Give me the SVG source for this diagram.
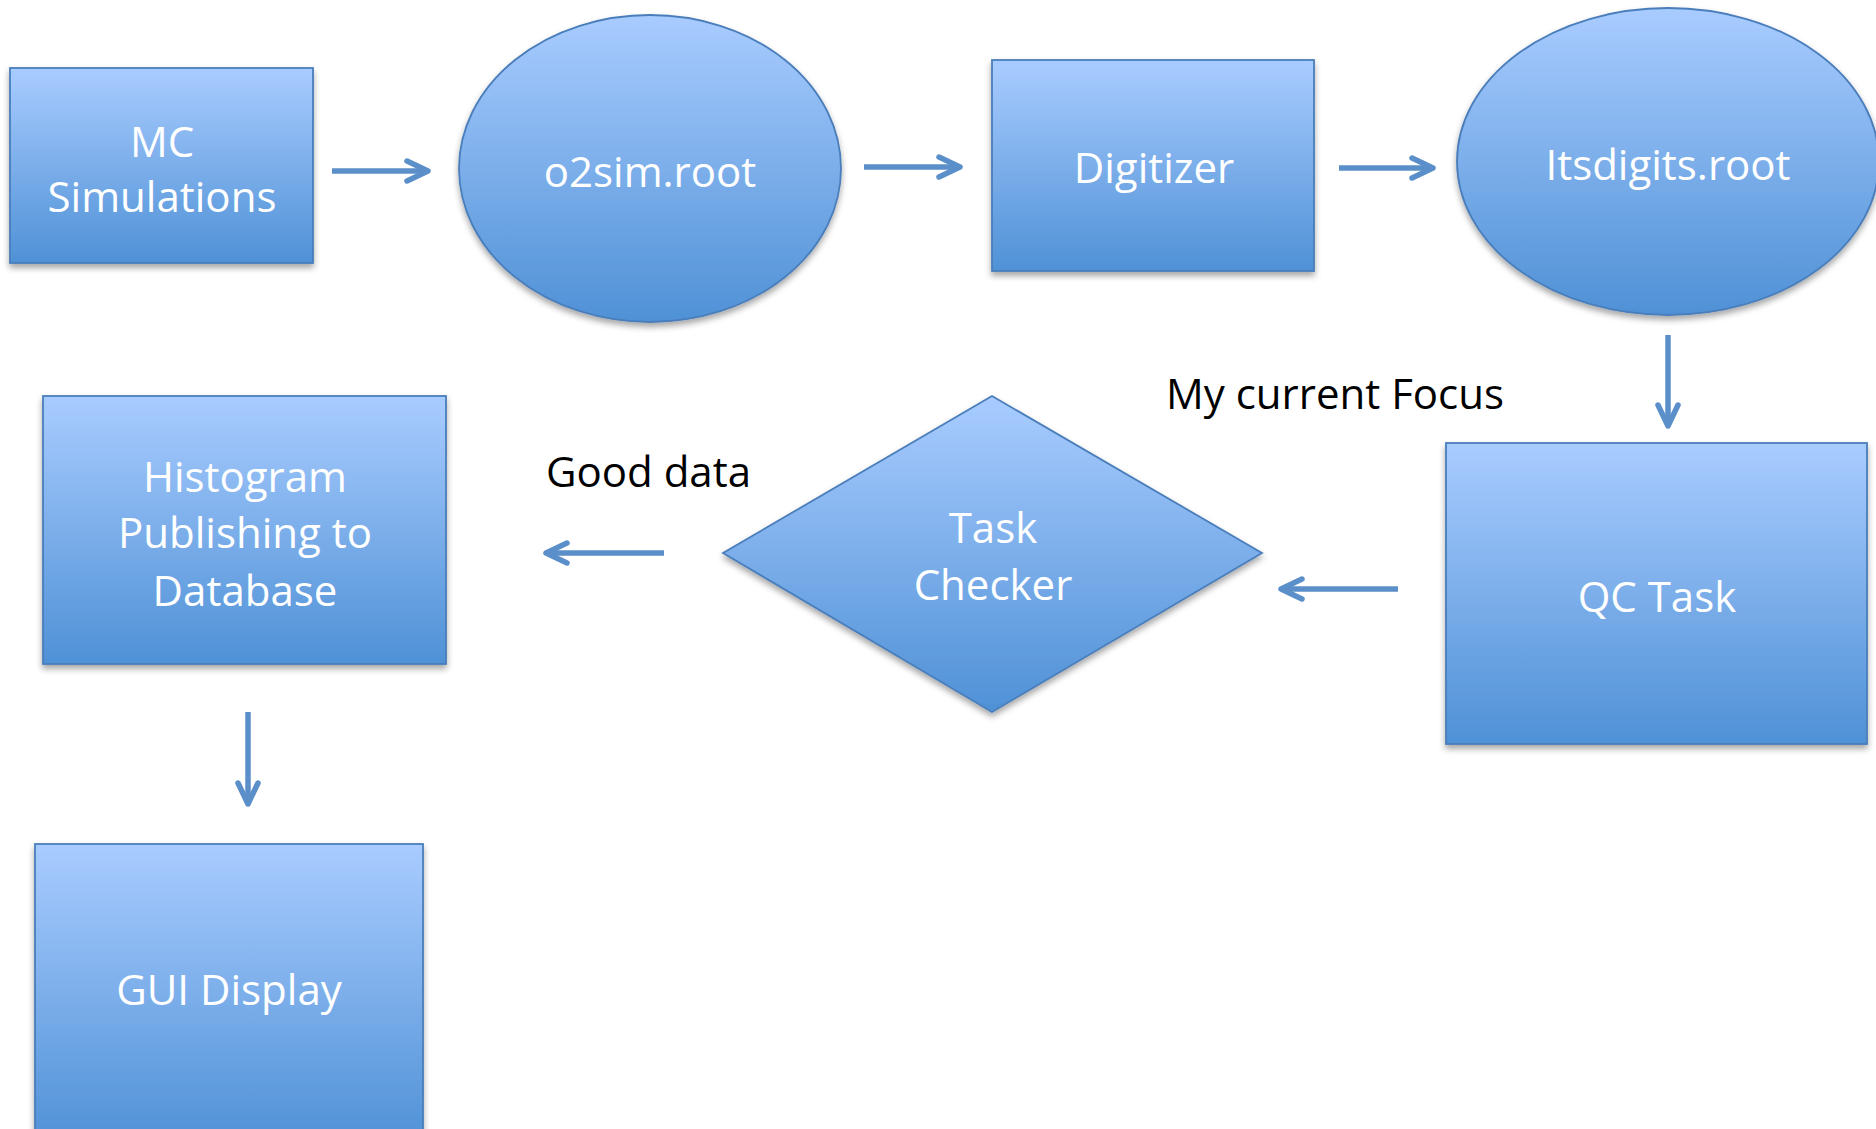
<svg xmlns="http://www.w3.org/2000/svg" width="1876" height="1129" viewBox="0 0 1876 1129">
<defs>
<linearGradient id="g" x1="0" y1="0" x2="0" y2="1">
<stop offset="0" stop-color="#a9ccff"/>
<stop offset="1" stop-color="#4f91d6"/>
</linearGradient>
<filter id="sh" x="-10%" y="-10%" width="120%" height="125%">
<feDropShadow dx="0" dy="4" stdDeviation="3" flood-color="#000" flood-opacity="0.35"/>
</filter>
<marker id="ah" markerUnits="userSpaceOnUse" markerWidth="40" markerHeight="40" viewBox="-30 -20 40 40" refX="0" refY="0" orient="auto">
<path d="M-21,-10 L0,0 L-21,10" fill="none" stroke="#5b8fc9" stroke-width="5.5" stroke-linecap="round" stroke-linejoin="round"/>
</marker>
</defs>
<style>
.n{fill:url(#g);stroke:#4a7ebb;stroke-width:1.8;filter:url(#sh)}
.t{font-family:"Open Sans","Liberation Sans",sans-serif;font-size:42px;fill:#ffffff;text-anchor:middle}
.l{font-family:"Open Sans","Liberation Sans",sans-serif;font-size:42px;fill:#000000}
.c{stroke:#5b8fc9;stroke-width:5.5;fill:none;marker-end:url(#ah)}
</style>
<rect width="1876" height="1129" fill="#ffffff"/>
<line x1="0" y1="321.5" x2="1876" y2="321.5" stroke="#5b8fc9" stroke-width="2.2" filter="url(#sh)"/>
<g id="mc">
<rect class="n" x="10" y="68" width="303" height="195"/>
<text class="t" x="162" y="157">MC</text>
<text class="t" x="162" y="212">Simulations</text>
</g>
<g id="o2sim">
<ellipse class="n" cx="650" cy="168.5" rx="191" ry="153.5"/>
<text class="t" x="650" y="187">o2sim.root</text>
</g>
<g id="digitizer">
<rect class="n" x="992" y="60" width="322" height="211"/>
<text class="t" x="1154" y="183">Digitizer</text>
</g>
<g id="itsdigits">
<ellipse class="n" cx="1668" cy="161.5" rx="211" ry="153.5"/>
<text class="t" x="1668" y="180">Itsdigits.root</text>
</g>
<g id="qctask">
<rect class="n" x="1446" y="443" width="421" height="301"/>
<text class="t" x="1657" y="612">QC Task</text>
</g>
<g id="taskchecker">
<polygon class="n" points="992,396 1262,553 992,712 723,553"/>
<text class="t" x="993" y="543">Task</text>
<text class="t" x="993" y="600">Checker</text>
</g>
<g id="histogram">
<rect class="n" x="43" y="396" width="403" height="268"/>
<text class="t" x="245" y="492">Histogram</text>
<text class="t" x="245" y="548">Publishing to</text>
<text class="t" x="245" y="606">Database</text>
</g>
<g id="gui">
<rect class="n" x="35" y="844" width="388" height="300"/>
<text class="t" x="229" y="1005">GUI Display</text>
</g>
<g id="labels">
<text class="l" x="1166" y="409">My current Focus</text>
<text class="l" x="546" y="487">Good data</text>
</g>
<g id="connectors">
<line class="c" x1="332" y1="171" x2="428" y2="171"/>
<line class="c" x1="864" y1="167" x2="960" y2="167"/>
<line class="c" x1="1339" y1="168" x2="1433" y2="168"/>
<line class="c" x1="1668" y1="335" x2="1668" y2="426"/>
<line class="c" x1="1398" y1="589" x2="1281" y2="589"/>
<line class="c" x1="664" y1="553" x2="546" y2="553"/>
<line class="c" x1="248" y1="712" x2="248" y2="804"/>
</g>
</svg>
